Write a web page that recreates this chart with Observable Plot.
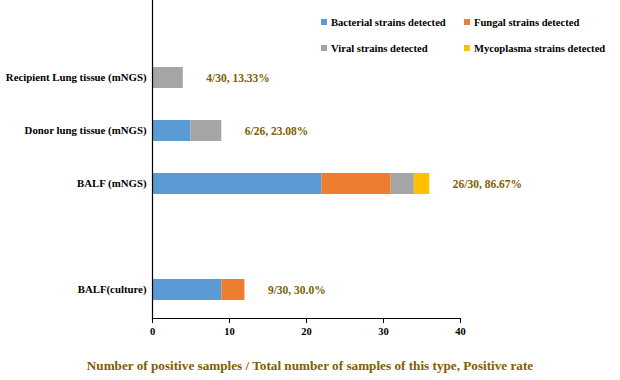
<!DOCTYPE html>
<html>
<head>
<meta charset="utf-8">
<script src="https://cdn.jsdelivr.net/npm/d3@7"></script>
<script src="https://cdn.jsdelivr.net/npm/@observablehq/plot@0.6"></script>
<style>
  body { margin: 0; background: #fff; font-family: "Liberation Serif", serif; }
  #wrap { position: relative; width: 620px; height: 380px; }
  #legend { position: absolute; left: 321px; top: 14px; font-weight: bold; font-size: 10.6px; color: #000; }
  .row { display: flex; height: 26px; align-items: flex-start; }
  .item { display: flex; align-items: center; width: 143px; white-space: nowrap; height: 16px; }
  .sw { width: 6px; height: 6px; margin-right: 4px; flex: none; }
  #caption { position: absolute; left: 0; width: 620px; top: 358px; text-align: center; font-weight: bold; font-size: 13.2px; color: #7f6000; }
</style>
</head>
<body>
<div id="wrap">
  <div id="chart"></div>
  <div id="legend"></div>
  <div id="caption">Number of positive samples / Total number of samples of this type, Positive rate</div>
</div>
<script>
const categories = ["Recipient Lung tissue (mNGS)", "Donor lung tissue (mNGS)", "BALF (mNGS)", "BALF(culture)"];
const seriesNames = ["Bacterial strains detected", "Fungal strains detected", "Viral strains detected", "Mycoplasma strains detected"];
const bacterial = [0, 5, 22, 9];
const fungal = [0, 0, 9, 3];
const viral = [4, 4, 3, 0];
const mycoplasma = [0, 0, 2, 0];
const rateLabels = ["4/30, 13.33%", "6/26, 23.08%", "26/30, 86.67%", "9/30, 30.0%"];
const colors = ["#5b9bd5", "#ed7d31", "#a5a5a5", "#ffc000"];
const xTicks = [0, 10, 20, 30, 40];

const seriesValues = [bacterial, fungal, viral, mycoplasma];
const rows = [];
categories.forEach((c, i) => {
  seriesNames.forEach((s, j) => {
    if (seriesValues[j][i] > 0) rows.push({category: c, series: s, value: seriesValues[j][i]});
  });
});
const totals = categories.map((c, i) => ({
  category: c,
  total: seriesValues.reduce((a, v) => a + v[i], 0),
  label: rateLabels[i]
}));

const spacer = " ";
const yDomain = [categories[0], categories[1], categories[2], spacer, categories[3]];

const chart = Plot.plot({
  width: 620,
  height: 345,
  marginLeft: 152,
  marginRight: 160,
  marginTop: 0,
  marginBottom: 27,
  style: {fontFamily: "Liberation Serif, serif", fontWeight: "bold", fontSize: "10.8px", color: "#000", background: "#fff"},
  x: {domain: [0, 40], ticks: xTicks, label: null},
  y: {domain: yDomain, range: [49.25, 316.75], paddingInner: 0.61, paddingOuter: 0.305, label: null},
  color: {domain: seriesNames, range: colors},
  marks: [
    Plot.barX(rows, Plot.stackX({x: "value", y: "category", fill: "series", order: seriesNames})),
    Plot.text(totals, {x: "total", y: "category", text: "label", textAnchor: "start", dx: 23, fill: "#7f6000", fontSize: 11.5, fontWeight: "bold"}),
    Plot.axisY({tickSize: 0, tickPadding: 6, label: null, fontSize: 10.8}),
    Plot.axisX({ticks: xTicks, tickSize: 5, tickPadding: 4, label: null, fontSize: 10.5, stroke: "#000"}),
    Plot.frame({anchor: "left", stroke: "#000", strokeWidth: 1.2}),
    Plot.frame({anchor: "bottom", stroke: "#000", strokeWidth: 1.2})
  ]
});
document.getElementById("chart").appendChild(chart);

const legend = document.getElementById("legend");
for (let r = 0; r < 2; r++) {
  const row = document.createElement("div");
  row.className = "row";
  for (let c = 0; c < 2; c++) {
    const k = r * 2 + c;
    const item = document.createElement("div");
    item.className = "item";
    const sw = document.createElement("span");
    sw.className = "sw";
    sw.style.background = colors[k];
    const t = document.createElement("span");
    t.textContent = seriesNames[k];
    item.appendChild(sw); item.appendChild(t);
    row.appendChild(item);
  }
  legend.appendChild(row);
}
</script>
</body>
</html>
